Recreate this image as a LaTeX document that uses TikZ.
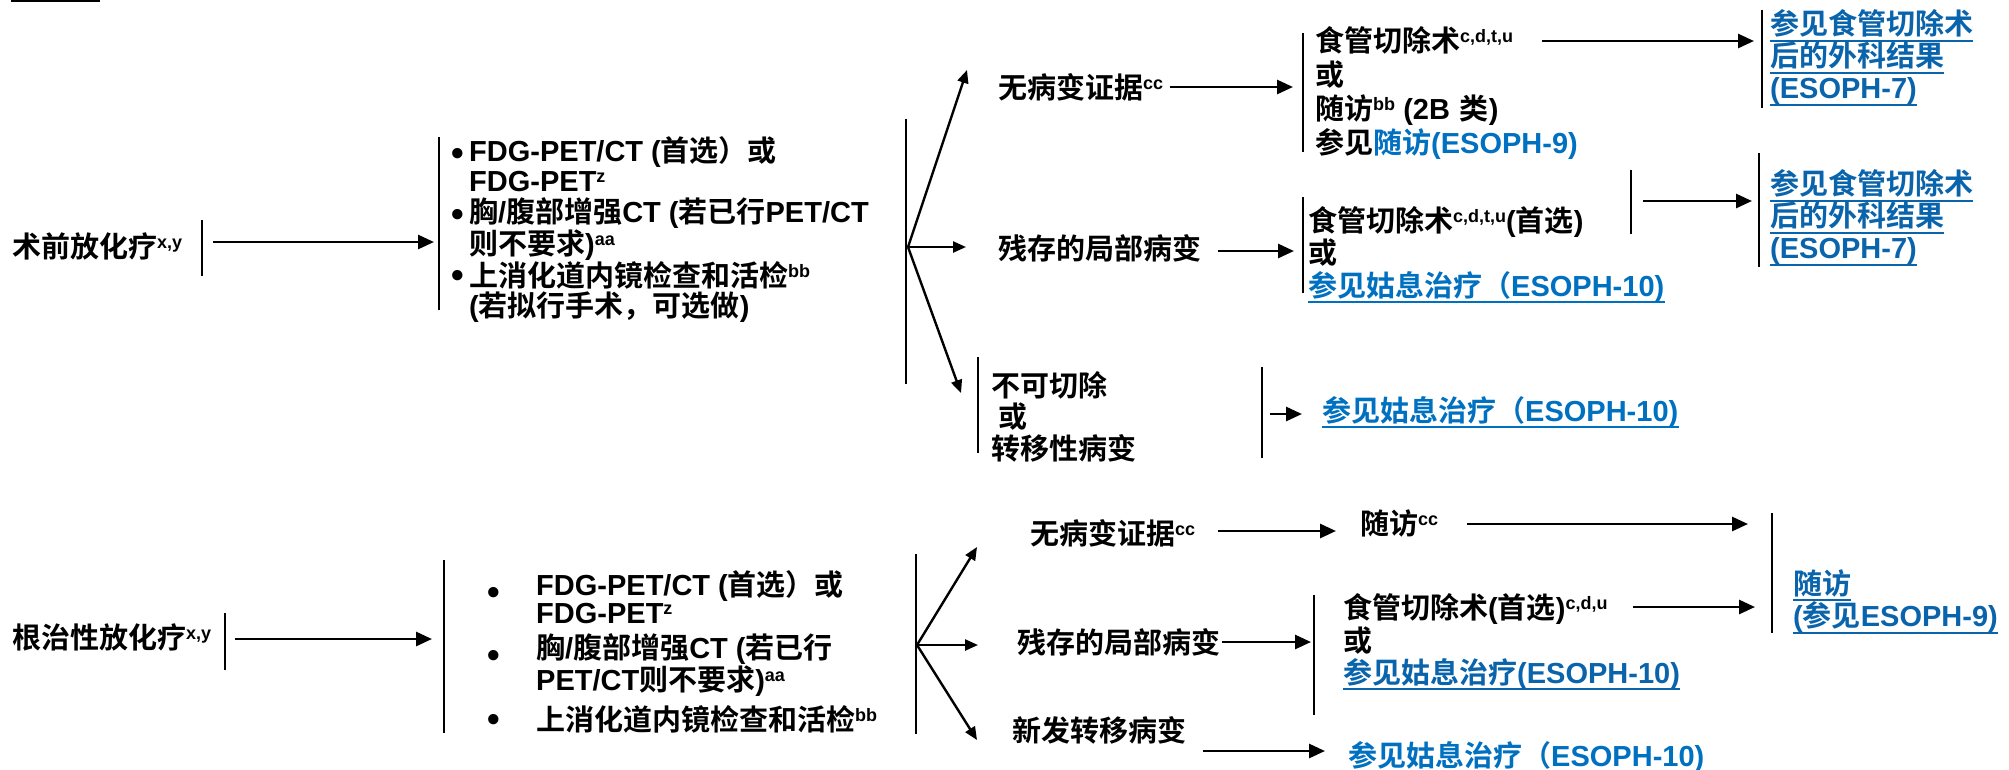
\documentclass[tikz,border=0pt]{standalone}
\usepackage{fontspec}
\usetikzlibrary{arrows.meta}
\setmainfont{Liberation Sans}
\newfontfamily\latf{Liberation Sans}
\newfontfamily\cjkf{Noto Sans CJK SC}[BoldFont={* Bold}]
\XeTeXinterchartokenstate=1
\newXeTeXintercharclass\cjkcls
\newcount\cjkcnt
\cjkcnt="3000 \loop\ifnum\cjkcnt<"3040 \XeTeXcharclass\cjkcnt=\cjkcls \advance\cjkcnt by 1 \repeat
\cjkcnt="4E00 \loop\ifnum\cjkcnt<"A000 \XeTeXcharclass\cjkcnt=\cjkcls \advance\cjkcnt by 1 \repeat
\cjkcnt="FF00 \loop\ifnum\cjkcnt<"FFF0 \XeTeXcharclass\cjkcnt=\cjkcls \advance\cjkcnt by 1 \repeat
\XeTeXinterchartoks 0 \cjkcls = {\cjkf}
\XeTeXinterchartoks 4095 \cjkcls = {\cjkf}
\XeTeXinterchartoks \cjkcls 0 = {\latf}
\XeTeXinterchartoks \cjkcls 4095 = {\latf}
\definecolor{blueA}{RGB}{0,112,192}
\definecolor{blueB}{RGB}{10,100,172}
\newcommand\supx[1]{\raisebox{9pt}{\fontsize{18}{18}\selectfont\latf #1}}
\tikzset{
  txt/.style={anchor=base west, inner sep=0pt, align=left, font=\bfseries\fontsize{29}{30.5}\selectfont},
  bul/.style={anchor=base, inner sep=0pt, font=\bfseries\fontsize{36}{36}\selectfont},
  link/.style={txt, text=blueB},
  bar/.style={line width=2.8pt},
  arr/.style={line width=2.8pt, -{Triangle[length=16pt,width=14pt]}},
  farr/.style={line width=2.4pt, -{Triangle[length=13pt,width=11pt]}},
  uline/.style={line width=2.2pt, blueB},
}
\newcommand\ulnode[2][7]{\draw[uline] ([yshift=-#1pt]#2.base west) -- ([yshift=-#1pt]#2.base east);}
\begin{document}
\begin{tikzpicture}[x=1pt,y=-1pt]
\useasboundingbox (0,0) rectangle (2009,769);
\fill[white] (0,0) rectangle (2009,769);
% stray line at top left
\draw[line width=2pt] (11,1) -- (100,1);

% ===================== TOP SECTION =====================
% (multi-line nodes: the base anchor is the baseline of the last line)
\node[txt] (preop) at (12,257) {术前放化疗\supx{x,y}};
\draw[bar] (202,220) -- (202,276);
\coordinate (a1s) at (213,242); \coordinate (a1e) at (434,242);
\draw[arr] (a1s) -- (a1e);
\draw[bar] (439,137) -- (439,310);
\node[bul] (tb1) at (458,165) {•};
\node[bul] (tb2) at (458,226) {•};
\node[bul] (tb3) at (458,287) {•};
\node[txt] (exam1) at (469,316.5) {FDG-PET/CT (首选）或\\FDG-PET\supx{z}\\胸/腹部增强CT (若已行PET/CT\\则不要求)\supx{aa}\\上消化道内镜检查和活检\supx{bb}\\(若拟行手术，可选做)};

\draw[bar] (906,119) -- (906,384);
\coordinate (f1) at (908,247);
\coordinate (f1u) at (967,70);
\coordinate (f1r) at (966,247);
\coordinate (f1d) at (961,393);
\draw[farr] (f1) -- (f1u);
\draw[farr] (f1) -- (f1r);
\draw[farr] (f1) -- (f1d);

% no evidence
\node[txt] (noev1) at (998,98) {无病变证据\supx{cc}};
\coordinate (a2s) at (1170,87); \coordinate (a2e) at (1293,87);
\draw[arr] (a2s) -- (a2e);
\draw[bar] (1303,33) -- (1303,152);
\node[txt, font=\bfseries\fontsize{29}{34.3}\selectfont] (opt1) at (1315,153.9) {食管切除术\supx{c,d,t,u}\\或\\随访\supx{bb} (2B\hspace{10pt}类)\\参见\textcolor{blueA}{随访(ESOPH-9)}};
\coordinate (a3s) at (1542,41); \coordinate (a3e) at (1754,41);
\draw[arr] (a3s) -- (a3e);
\draw[bar] (1762,10) -- (1762,108);
\node[link] (r1a) at (1770,34) {参见食管切除术};
\node[link] (r1b) at (1770,66) {后的外科结果};
\node[link] (r1c) at (1770,98) {(ESOPH-7)};
\ulnode{r1a}\ulnode{r1b}\ulnode{r1c}

% residual local
\node[txt] (resid1) at (998,259) {残存的局部病变};
\coordinate (a4s) at (1218,251); \coordinate (a4e) at (1294,251);
\draw[arr] (a4s) -- (a4e);
\draw[bar] (1303,197) -- (1303,293);
\node[txt, font=\bfseries\fontsize{29}{32.5}\selectfont] (opt2) at (1308,263.5) {食管切除术\supx{c,d,t,u}(首选)\\或};
\node[link, text=blueA] (pal1) at (1308,296) {参见姑息治疗（ESOPH-10)};
\draw[uline, blueA] ([yshift=-6pt]pal1.base west) -- ([yshift=-6pt]pal1.base east);
\draw[bar] (1631,170) -- (1631,234);
\coordinate (a5s) at (1643,201); \coordinate (a5e) at (1752,201);
\draw[arr] (a5s) -- (a5e);
\draw[bar] (1759,153) -- (1759,267);
\node[link] (r2a) at (1770,194) {参见食管切除术};
\node[link] (r2b) at (1770,226) {后的外科结果};
\node[link] (r2c) at (1770,258) {(ESOPH-7)};
\ulnode{r2a}\ulnode{r2b}\ulnode{r2c}

% unresectable
\draw[bar] (978,357) -- (978,453);
\node[txt, font=\bfseries\fontsize{29}{31.5}\selectfont] (unres) at (991,459) {不可切除\\\hspace{7pt}或\\转移性病变};
\draw[bar] (1262,367) -- (1262,458);
\coordinate (a6s) at (1270,414); \coordinate (a6e) at (1302,414);
\draw[arr] (a6s) -- (a6e);
\node[link, text=blueA] (pal2) at (1322,421) {参见姑息治疗（ESOPH-10)};
\draw[uline, blueA] ([yshift=-6pt]pal2.base west) -- ([yshift=-6pt]pal2.base east);

% ===================== BOTTOM SECTION =====================
\node[txt] (defin) at (12,648) {根治性放化疗\supx{x,y}};
\draw[bar] (225,613) -- (225,670);
\coordinate (b1s) at (235,639); \coordinate (b1e) at (432,639);
\draw[arr] (b1s) -- (b1e);
\draw[bar] (444,560) -- (444,733);
\node[bul] (bb1) at (494,604) {•};
\node[bul] (bb2) at (494,667) {•};
\node[bul] (bb3) at (494,731) {•};
\node[txt, font=\bfseries\fontsize{29}{28}\selectfont] (exam2) at (536,730) {FDG-PET/CT (首选）或\\FDG-PET\supx{z}\\[7pt]胸/腹部增强CT (若已行\\PET/CT则不要求)\supx{aa}\\[8pt]上消化道内镜检查和活检\supx{bb}};

\draw[bar] (916,554) -- (916,734);
\coordinate (f2) at (917,645);
\coordinate (f2u) at (977,547);
\coordinate (f2r) at (978,645);
\coordinate (f2d) at (977,740);
\draw[farr] (f2) -- (f2u);
\draw[farr] (f2) -- (f2r);
\draw[farr] (f2) -- (f2d);

\node[txt] (noev2) at (1030,544) {无病变证据\supx{cc}};
\coordinate (b2s) at (1218,531); \coordinate (b2e) at (1336,531);
\draw[arr] (b2s) -- (b2e);
\node[txt] (fu2) at (1360,534) {随访\supx{cc}};
\coordinate (b3s) at (1467,524); \coordinate (b3e) at (1748,524);
\draw[arr] (b3s) -- (b3e);
\draw[bar] (1772,513) -- (1772,633);
\node[link] (fu2a) at (1793,594) {随访};
\node[link] (fu2b) at (1793,626) {(参见ESOPH-9)};
\ulnode[6]{fu2a}\ulnode[7]{fu2b}

\node[txt] (resid2) at (1017,653) {残存的局部病变};
\coordinate (b4s) at (1222,642); \coordinate (b4e) at (1311,642);
\draw[arr] (b4s) -- (b4e);
\draw[bar] (1314,595) -- (1314,715);
\node[txt, font=\bfseries\fontsize{29}{33}\selectfont] (opt3) at (1343,651) {食管切除术(首选)\supx{c,d,u}\\或};
\node[link] (pal3) at (1343,683) {参见姑息治疗(ESOPH-10)};
\ulnode[6]{pal3}
\coordinate (b5s) at (1633,607); \coordinate (b5e) at (1755,607);
\draw[arr] (b5s) -- (b5e);

\node[txt] (newmet) at (1012,741) {新发转移病变};
\coordinate (b6s) at (1203,751); \coordinate (b6e) at (1325,751);
\draw[arr] (b6s) -- (b6e);
\node[link, text=blueA] (pal4) at (1348,766) {参见姑息治疗（ESOPH-10)};
\end{tikzpicture}
\end{document}
